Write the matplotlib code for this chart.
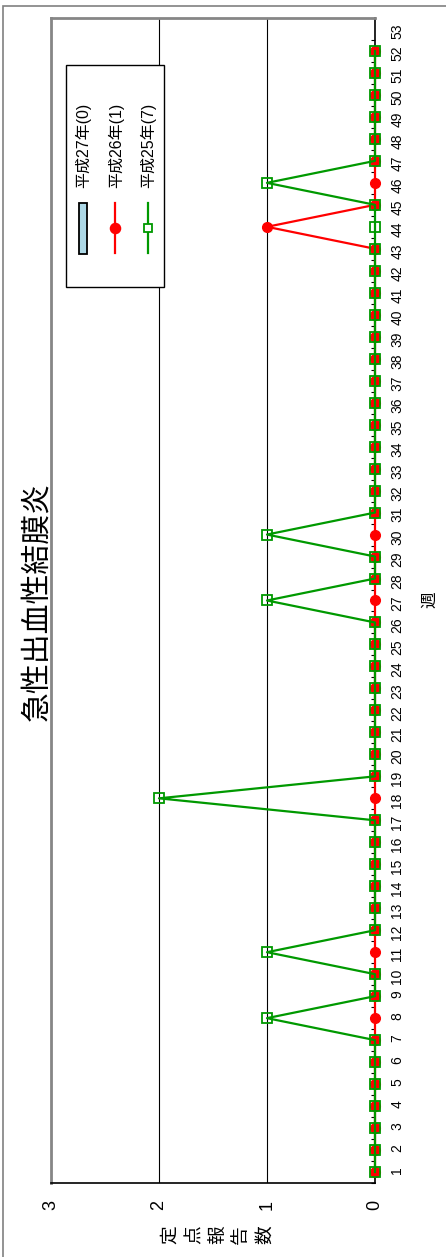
import numpy as np
import matplotlib
matplotlib.use('Agg')
import matplotlib.pyplot as plt
from matplotlib.patches import Rectangle
from matplotlib.lines import Line2D

plt.rcParams['font.family'] = ['Liberation Sans', 'Noto Sans CJK JP']

title = '急性出血性結膜炎'
ylabel = '定点報告数'
series_names = ['平成27年(0)', '平成26年(1)', '平成25年(7)']
weeks = np.arange(1, 53)
week_ticks = np.arange(1, 54)
h27 = [0] * 52
h26 = [0, 0, 0, 0, 0, 0, 0, 0, 0, 0,
       0, 0, 0, 0, 0, 0, 0, 0, 0, 0,
       0, 0, 0, 0, 0, 0, 0, 0, 0, 0,
       0, 0, 0, 0, 0, 0, 0, 0, 0, 0,
       0, 0, 0, 1, 0, 0, 0, 0, 0, 0,
       0, 0]
h25 = [0, 0, 0, 0, 0, 0, 0, 1, 0, 0,
       1, 0, 0, 0, 0, 0, 0, 2, 0, 0,
       0, 0, 0, 0, 0, 0, 1, 0, 0, 1,
       0, 0, 0, 0, 0, 0, 0, 0, 0, 0,
       0, 0, 0, 0, 0, 1, 0, 0, 0, 0,
       0, 0]

W, H = 446, 1257
RED = '#ff0000'
GREEN = '#009900'
BLUE = '#add8e6'
GRAY = '#868686'


def fx(x):
    return x / W


def fy(y):
    return 1 - y / H


fig = plt.figure(figsize=(W / 100, H / 100), dpi=100)
ax = fig.add_axes([fx(51), fy(1183), fx(375) - fx(51), fy(18) - fy(1183)])

# chart is laid out rotated: values run right-to-left, weeks bottom-to-top
ax.barh(weeks, h27, height=0.6, color=BLUE, linewidth=0)
ax.plot(h26, weeks, color=RED, lw=1.6, marker='o', ms=7, zorder=3, clip_on=False)
ax.plot(h25, weeks, color=GREEN, lw=1.6, marker='s', ms=6.5, mfc='none',
        mew=1.3, zorder=4, clip_on=False)

ax.set_xlim(3, 0)
ax.set_ylim(0.5, 53.5)
ax.set_xticks([0, 1, 2, 3])
ax.tick_params(axis='x', length=0, pad=12, labelsize=13, labelrotation=90)
ax.xaxis.grid(True, color='black', lw=0.8)
ax.set_axisbelow(True)

ax.yaxis.tick_right()
ax.set_yticks(week_ticks)
ax.set_yticks(np.arange(0.5, 54, 1), minor=True)
ax.tick_params(axis='y', which='major', length=0, pad=11, labelsize=10,
               labelrotation=90)
ax.tick_params(axis='y', which='minor', length=3, direction='in',
               width=0.8, right=True, left=False)

for s in ['left', 'top']:
    ax.spines[s].set_color(GRAY)
    ax.spines[s].set_linewidth(2)
for s in ['right', 'bottom']:
    ax.spines[s].set_color('black')
    ax.spines[s].set_linewidth(1.2)

fig.text(fx(37), fy(602), title, rotation=90, fontsize=21.5,
         ha='center', va='center')
fig.text(fx(430), fy(600), '週', rotation=90, fontsize=12,
         ha='center', va='center')
# stacked axis label, one rotated glyph per position
for i, ch in enumerate(ylabel):
    fig.text(fx(171 + i * 23.6), fy(1235), ch, rotation=90, fontsize=13.5,
             ha='center', va='center', rotation_mode='anchor')

# outer chart border
fig.add_artist(Rectangle((fx(3), -0.01), 1.0, fy(6) + 0.01, transform=fig.transFigure,
                         fill=False, ec='#808080', lw=1.2))

# legend (drawn by hand because it is rotated)
fig.add_artist(Rectangle((fx(66), fy(287)), fx(164) - fx(66), fy(65) - fy(287),
                         transform=fig.transFigure, fc='white', ec='black', lw=1,
                         zorder=5))
fig.add_artist(Rectangle((fx(79), fy(254)), fx(87) - fx(79), fy(203) - fy(254),
                         transform=fig.transFigure, fc=BLUE, ec='black', lw=1.3,
                         zorder=6))
for xc, col, mk, mfc in [(115, RED, 'o', RED), (148, GREEN, 's', 'white')]:
    fig.add_artist(Line2D([fx(xc), fx(xc)], [fy(203), fy(253)], color=col, lw=1.6,
                          transform=fig.transFigure, zorder=6))
    fig.add_artist(Line2D([fx(xc)], [fy(228)], color=col, marker=mk, ms=7 if mk == 'o' else 6,
                          mfc=mfc, mew=1.3, transform=fig.transFigure, zorder=7))
for xc, name in zip([83, 116, 148], series_names):
    fig.text(fx(xc), fy(188), name, rotation=90, fontsize=11.5,
             ha='center', va='bottom', zorder=7)

fig.savefig('out.png', dpi=100)
